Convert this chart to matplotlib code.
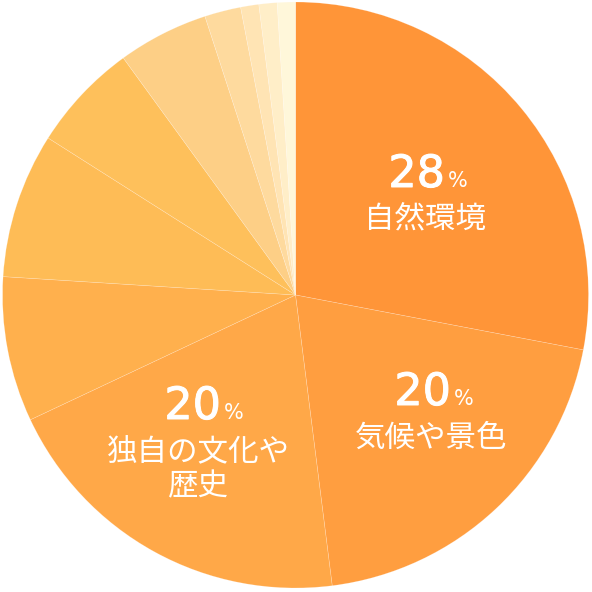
import matplotlib
matplotlib.use("Agg")
import matplotlib.pyplot as plt
import matplotlib.patheffects as pe

plt.rcParams['font.family'] = ['Noto Sans CJK JP', 'DejaVu Sans']

# share of each answer, in %, clockwise from 12 o'clock
shares = [28, 20, 20, 8, 8, 6, 5, 2, 1, 1, 1]
colors = ['#FF9538', '#FF9E40', '#FFA848', '#FFB04D', '#FEBC56', '#FEC05B',
          '#FDCF86', '#FEDA9E', '#FFE4B4', '#FFEEC8', '#FFF7DA']

# labels shown inside the three big slices
big_values = ['28', '20', '20']
big_names = ['自然環境', '気候や景色', '独自の文化や\n歴史']

W = H = 592
fig = plt.figure(figsize=(W / 100, H / 100), dpi=100)
ax = fig.add_axes([0, 0, 1, 1])

cx, cy, r = 295.5, H - 295, 293
ax.pie(shares, colors=colors, startangle=90, counterclock=False,
       center=(cx, cy), radius=r, frame=True,
       wedgeprops=dict(linewidth=0.4, edgecolor=(1, 1, 1, 0.3)))
ax.set_xlim(0, W)
ax.set_ylim(0, H)
ax.set_aspect('equal')
ax.axis('off')

thick = [pe.withStroke(linewidth=0.7, foreground='white')]

# (split x between number and %, baseline y, label centre x, label centre y) in pixels
spots = [(445, 187, 425, 220),
         (451, 405, 431, 438),
         (221, 419, 198, 470)]
for val, name, (sx, by, lx, ly) in zip(big_values, big_names, spots):
    ax.text(sx, H - by, val, color='white', fontsize=32, ha='right',
            va='baseline', family='DejaVu Sans', path_effects=thick)
    ax.text(sx + 3, H - by, '%', color='white', fontsize=15, ha='left',
            va='baseline', family='DejaVu Sans')
    ax.text(lx, H - ly, name, color='white', fontsize=22, ha='center',
            va='center', linespacing=1.12)

fig.savefig('out.png', dpi=100)
